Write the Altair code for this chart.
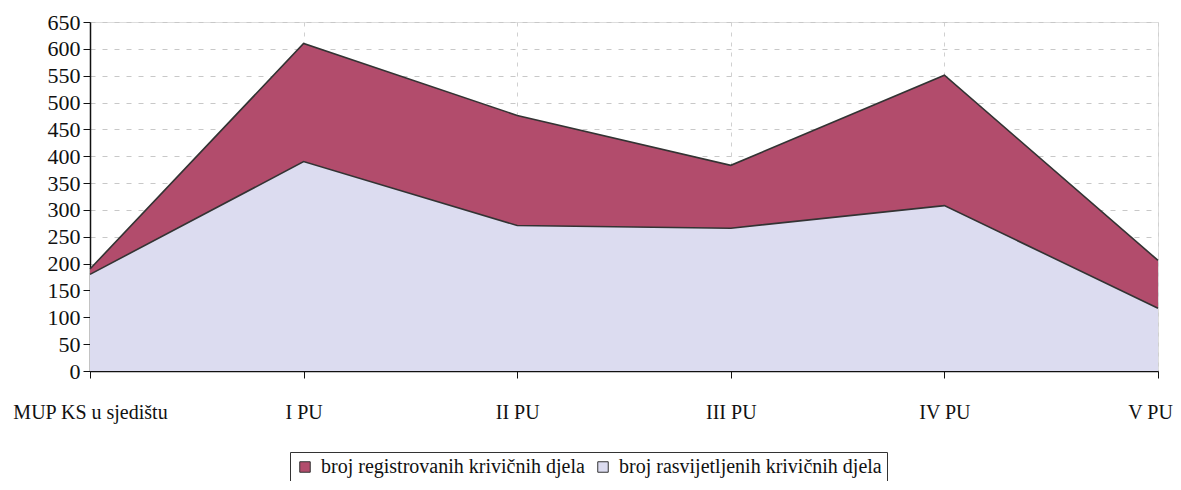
import altair as alt
import pandas as pd

categories = ["MUP KS u sjedištu", "I PU", "II PU", "III PU", "IV PU", "V PU"]
registered = [190, 610, 476, 383, 551, 206]
solved = [180, 390, 271, 266, 308, 117]
series_names = ["broj registrovanih krivičnih djela", "broj rasvijetljenih krivičnih djela"]
colors = ["#b24c6c", "#dcdcf0"]

rows = []
for c, v in zip(categories, registered):
    rows.append({"cat": c, "val": v, "series": series_names[0]})
for c, v in zip(categories, solved):
    rows.append({"cat": c, "val": v, "series": series_names[1]})
df = pd.DataFrame(rows)

FONT = "Liberation Serif"

x = alt.X("cat:N", sort=categories, scale=alt.Scale(type="point", padding=0),
          axis=alt.Axis(title=None, labelAngle=0, labelFont=FONT, labelFontSize=20,
                        labelColor="#111", labelPadding=24, tickSize=7, tickColor="#111",
                        domainColor="#111", domainWidth=1.5, grid=True, gridDash=[4, 6],
                        gridColor="#d0d0d0", labelOverlap=False, labelLimit=0,
                        labelOffset={"expr": "datum.value === 'V PU' ? -8 : 0"}))
y = alt.Y("val:Q", stack=None, scale=alt.Scale(domain=[0, 650], nice=False),
          axis=alt.Axis(title=None, values=list(range(0, 651, 50)), labelFont=FONT,
                        labelFontSize=22, labelColor="#111", labelPadding=3, tickSize=7,
                        tickColor="#111", domainColor="#111", domainWidth=1.5, grid=True,
                        gridDash=[5, 7], gridColor="#c8c8c8"))
color = alt.Color("series:N", scale=alt.Scale(domain=series_names, range=colors),
                  legend=alt.Legend(title=None, orient="none", legendX=200, legendY=430,
                                    direction="horizontal", labelFont=FONT, labelFontSize=20,
                                    labelColor="#111", labelLimit=0, symbolType="square",
                                    symbolSize=110, symbolStrokeColor="#333",
                                    symbolStrokeWidth=1, strokeColor="#333", padding=5,
                                    columnPadding=8, labelOffset=6, symbolOpacity=1))

base = alt.Chart(df)
area_reg = base.transform_filter(alt.datum.series == series_names[0]).mark_area(opacity=1).encode(x=x, y=y, color=color)
area_sol = base.transform_filter(alt.datum.series == series_names[1]).mark_area(opacity=1).encode(x=x, y=y, color=color)
line_reg = base.transform_filter(alt.datum.series == series_names[0]).mark_line(color="#333", strokeWidth=1.6).encode(x=x, y=y)
line_sol = base.transform_filter(alt.datum.series == series_names[1]).mark_line(color="#333", strokeWidth=1.6).encode(x=x, y=y)

chart = alt.layer(area_reg, area_sol, line_reg, line_sol).properties(
    width=1068, height=349,
    autosize=alt.AutoSizeParams(type="none"),
    padding={"left": 82, "top": 14, "right": 15, "bottom": 110},
).configure_view(stroke="#999", strokeWidth=1).configure_legend(
    labelFont=FONT, labelFontSize=20, labelLimit=0
).configure(background="white")

chart.save("out.html", embed_options={"renderer": "svg", "actions": False})
